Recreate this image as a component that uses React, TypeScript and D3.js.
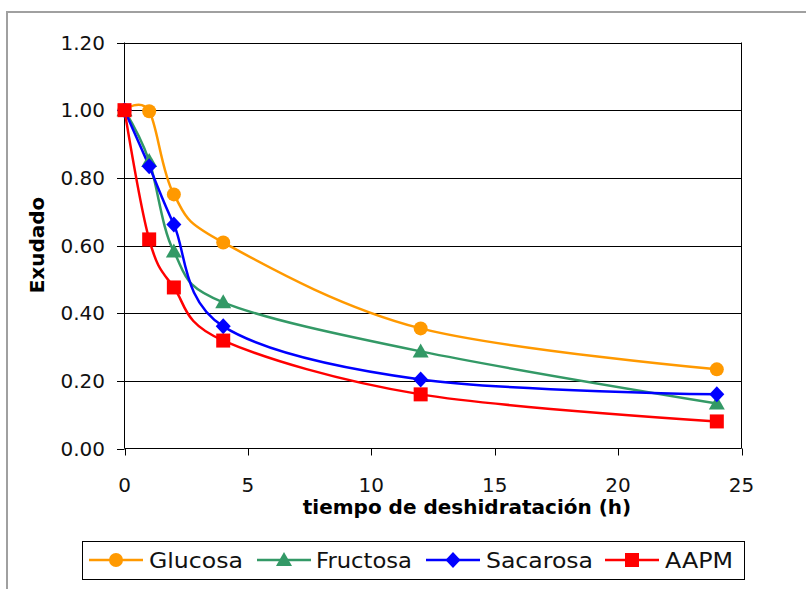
import React from "react";
import * as d3 from "d3";

const hours = [0, 1, 2, 4, 12, 24];
const glucosa = [1.0, 0.997, 0.751, 0.609, 0.355, 0.234];
const fructosa = [1.0, 0.85, 0.582, 0.432, 0.287, 0.133];
const sacarosa = [1.0, 0.834, 0.662, 0.361, 0.204, 0.16];
const aapm = [1.0, 0.618, 0.476, 0.319, 0.16, 0.08];
const seriesNames = ["Glucosa", "Fructosa", "Sacarosa", "AAPM"];
const seriesColors = ["#FF9900", "#339966", "#0000FF", "#FF0000"];
const seriesMarkers = ["circle", "triangle", "diamond", "square"];
const yTicks = [0, 0.2, 0.4, 0.6, 0.8, 1.0, 1.2];
const xTicks = [0, 5, 10, 15, 20, 25];

const W = 806;
const H = 589;
const left = 124.5;
const right = 741.5;
const top = 42.5;
const bottom = 448.5;

function Marker({ type, x, y, color }: { type: string; x: number; y: number; color: string }) {
  if (type === "circle") return <circle cx={x} cy={y} r={7} fill={color} />;
  if (type === "square") return <rect x={x - 7} y={y - 7} width={14} height={14} fill={color} />;
  if (type === "diamond")
    return <path d={`M${x},${y - 8}L${x + 7.5},${y}L${x},${y + 8}L${x - 7.5},${y}Z`} fill={color} />;
  return <path d={`M${x},${y - 8}L${x + 8},${y + 6}L${x - 8},${y + 6}Z`} fill={color} />;
}

export default function App() {
  const x = d3.scaleLinear().domain([0, 25]).range([left, right]);
  const y = d3.scaleLinear().domain([0, 1.2]).range([bottom, top]);
  const all = [glucosa, fructosa, sacarosa, aapm];
  const line = d3
    .line<number>()
    .x((_, i) => x(hours[i]))
    .y((d) => y(d))
    .curve(d3.curveCardinal.tension(0));
  const font = "'DejaVu Sans', sans-serif";
  const legendItems = [
    { lx: 89, tx: 149, tw: 94 },
    { lx: 257, tx: 316, tw: 96 },
    { lx: 426, tx: 486, tw: 107 },
    { lx: 605, tx: 665, tw: 68 },
  ];
  return (
    <svg width={W} height={H} style={{ position: "absolute", left: 0, top: 0, background: "#fff" }}>
      <rect width={W} height={H} fill="#fff" />
      <path d={`M7,${H}V12H${W}`} fill="none" stroke="#a0a0a0" strokeWidth={2} />
      {yTicks.map((t) => (
        <g key={t}>
          {t > 0 && <line x1={left} x2={right} y1={Math.round(y(t)) + 0.5} y2={Math.round(y(t)) + 0.5} stroke="#000" strokeWidth={1} />}
          <line x1={117} x2={left} y1={Math.round(y(t)) + 0.5} y2={Math.round(y(t)) + 0.5} stroke="#000" />
          <text x={105} y={y(t)} dy="0.36em" textAnchor="end" fontFamily={font} fontSize={20} fill="#111">
            {t.toFixed(2)}
          </text>
        </g>
      ))}
      <line x1={right} x2={right} y1={top} y2={bottom} stroke="#000" />
      <line x1={left} x2={left} y1={top} y2={bottom} stroke="#000" />
      <line x1={left} x2={right} y1={bottom} y2={bottom} stroke="#000" />
      {xTicks.map((t) => (
        <g key={t}>
          <line x1={Math.round(x(t)) + 0.5} x2={Math.round(x(t)) + 0.5} y1={bottom} y2={bottom + 7} stroke="#000" />
          <text x={x(t)} y={492} textAnchor="middle" fontFamily={font} fontSize={20} fill="#111">
            {t}
          </text>
        </g>
      ))}
      <text x={467} y={514} textAnchor="middle" fontFamily={font} fontSize={20} fontWeight="bold" fill="#000">
        tiempo de deshidratación (h)
      </text>
      <text
        transform={`translate(44,245) rotate(-90)`}
        textAnchor="middle"
        fontFamily={font}
        fontSize={20}
        fontWeight="bold"
        fill="#000"
      >
        Exudado
      </text>
      {all.map((s, i) => (
        <path key={i} d={line(s) || ""} fill="none" stroke={seriesColors[i]} strokeWidth={2.5} />
      ))}
      {all.map((s, i) =>
        s.map((v, j) => <Marker key={`${i}-${j}`} type={seriesMarkers[i]} x={x(hours[j])} y={y(v)} color={seriesColors[i]} />)
      )}
      <rect x={82.5} y={541.5} width={662} height={38} fill="#fff" stroke="#000" strokeWidth={1} />
      {seriesNames.map((n, i) => {
        const it = legendItems[i];
        return (
          <g key={n}>
            <line x1={it.lx} x2={it.lx + 54} y1={560} y2={560} stroke={seriesColors[i]} strokeWidth={2.5} />
            <Marker type={seriesMarkers[i]} x={it.lx + 27} y={560} color={seriesColors[i]} />
            <text x={it.tx} y={568} fontFamily={font} fontSize={22} textLength={it.tw} lengthAdjust="spacingAndGlyphs" fill="#111">
              {n}
            </text>
          </g>
        );
      })}
    </svg>
  );
}
